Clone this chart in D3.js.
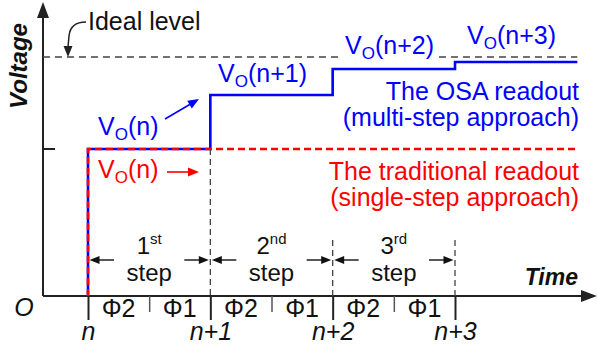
<!DOCTYPE html>
<html>
<head>
<meta charset="utf-8">
<script src="https://cdn.jsdelivr.net/npm/d3@7"></script>
<style>
  html, body { margin: 0; padding: 0; background: #fff; }
  svg { display: block; font-family: "Liberation Sans", Arial, sans-serif; }
</style>
</head>
<body>
<svg id="chart" width="597" height="351"></svg>
<script>
// Sampling instants and clock phases along the time axis
const timeTicks = ["n", "n+1", "n+2", "n+3"];
const phaseLabels = ["Φ2", "Φ1"];
const stepOrdinals = [["1", "st"], ["2", "nd"], ["3", "rd"]];

// Output voltage levels (normalised to the ideal level)
const idealLevel = 1.0;
const singleStepLevel = 0.615;
const osaLevels = [0.615, 0.841, 0.95, 0.979];
const osaArgs = ["n", "n+1", "n+2", "n+3"];

const BLUE = "#0000ff", RED = "#ff0000", INK = "#222", GREY = "#444";
const FS = 25;

const svg = d3.select("#chart");
const x = d3.scaleLinear().domain([0, 3]).range([88, 455]);
const y = d3.scaleLinear().domain([0, 1]).range([296, 57]);
const x0 = 43;            // voltage axis position
const tEnd = 4;           // end of the last interval

// arrowhead helper: filled triangle with tip at (tx,ty) pointing along angle a
function head(g, tx, ty, a, len, half, color) {
  const c = Math.cos(a), s = Math.sin(a);
  const bx = tx - c * len, by = ty - s * len;
  g.append("path")
    .attr("d", `M${tx},${ty}L${bx - s * half},${by + c * half}L${bx + s * half},${by - c * half}Z`)
    .attr("fill", color);
}
function arrow(g, x1, y1, x2, y2, color, w, len, half) {
  const a = Math.atan2(y2 - y1, x2 - x1);
  g.append("line")
    .attr("x1", x1).attr("y1", y1)
    .attr("x2", x2 - Math.cos(a) * len * 0.8).attr("y2", y2 - Math.sin(a) * len * 0.8)
    .attr("stroke", color).attr("stroke-width", w);
  head(g, x2, y2, a, len, half, color);
}
// V_O(...) label with subscript
function voLabel(g, px, py, arg, color) {
  const t = g.append("text").attr("x", px).attr("y", py)
    .attr("fill", color).attr("font-size", FS);
  t.append("tspan").text("V");
  t.append("tspan").attr("font-size", 17).attr("dy", 5).text("O");
  t.append("tspan").attr("dy", -5).text(`(${arg})`);
  return t;
}

// ---- axes ----
const axes = svg.append("g");
axes.append("line").attr("x1", x0).attr("y1", y(0)).attr("x2", x0).attr("y2", 14)
  .attr("stroke", INK).attr("stroke-width", 2);
head(axes, x0, 2, -Math.PI / 2, 16, 6, INK);
axes.append("line").attr("x1", x0).attr("y1", y(0)).attr("x2", 584).attr("y2", y(0))
  .attr("stroke", INK).attr("stroke-width", 2);
head(axes, 597, y(0), 0, 16, 6, INK);

// tick on the voltage axis at the single-step level
axes.append("line").attr("x1", x0).attr("x2", x0 + 12)
  .attr("y1", y(singleStepLevel)).attr("y2", y(singleStepLevel))
  .attr("stroke", INK).attr("stroke-width", 2);

// sampling-instant ticks with italic labels
const tAxis = d3.axisBottom(x).tickValues(d3.range(timeTicks.length))
  .tickSize(24).tickPadding(2).tickFormat(i => timeTicks[i]);
const gT = svg.append("g").attr("transform", `translate(0,${y(0)})`).call(tAxis);
gT.select(".domain").remove();
gT.selectAll(".tick line").attr("stroke", INK).attr("stroke-width", 2);
gT.selectAll(".tick text").attr("font-size", FS).attr("font-style", "italic")
  .attr("font-family", "Liberation Sans, Arial, sans-serif").attr("fill", "#111");

// phase separator ticks
const halfTicks = d3.range(stepOrdinals.length).map(i => i + 0.5);
const hAxis = d3.axisBottom(x).tickValues(halfTicks).tickSize(16).tickFormat("");
const gH = svg.append("g").attr("transform", `translate(0,${y(0)})`).call(hAxis);
gH.select(".domain").remove();
gH.selectAll(".tick line").attr("stroke", "#555").attr("stroke-width", 1.5);

// phase labels
const phases = [];
stepOrdinals.forEach((_, i) => phaseLabels.forEach((p, j) => phases.push({ t: i + 0.25 + j * 0.5, p })));
svg.append("g").selectAll("text").data(phases).join("text")
  .attr("x", d => x(d.t)).attr("y", 317).attr("text-anchor", "middle")
  .attr("font-size", FS).attr("fill", "#111").text(d => d.p);

// origin and axis titles
svg.append("text").attr("x", 24).attr("y", 316).attr("text-anchor", "middle")
  .attr("font-size", FS).attr("font-style", "italic").attr("fill", "#111").text("O");
svg.append("text").attr("x", 578).attr("y", 285).attr("text-anchor", "end")
  .attr("font-size", 23).attr("font-style", "italic").attr("font-weight", "bold")
  .attr("fill", "#111").text("Time");
svg.append("text").attr("transform", `translate(27,66) rotate(-90)`)
  .attr("text-anchor", "middle").attr("font-size", 24).attr("font-style", "italic")
  .attr("font-weight", "bold").attr("fill", "#111").text("Voltage");

// ---- guide lines ----
const guides = svg.append("g").attr("stroke", GREY).attr("stroke-width", 1.3)
  .attr("stroke-dasharray", "7,5").attr("fill", "none");
guides.append("line").attr("x1", x0).attr("x2", x(tEnd))
  .attr("y1", y(idealLevel)).attr("y2", y(idealLevel));
guides.append("line").attr("x1", x(1)).attr("x2", x(1))
  .attr("y1", y(singleStepLevel)).attr("y2", y(0)).attr("stroke-dasharray", "6,4");
[2, 3].forEach(t => guides.append("line").attr("x1", x(t)).attr("x2", x(t))
  .attr("y1", 240).attr("y2", y(0)).attr("stroke-dasharray", "6,4"));

// ---- readout waveforms ----
const line = d3.line().x(d => x(d[0])).y(d => y(d[1])).curve(d3.curveStepAfter);
const osaPts = [[0, 0]].concat(osaLevels.map((v, i) => [i, v]), [[tEnd, osaLevels[osaLevels.length - 1]]]);
svg.append("path").attr("d", line(osaPts)).attr("fill", "none")
  .attr("stroke", BLUE).attr("stroke-width", 2.6);
const ssPts = [[0, 0], [0, singleStepLevel], [tEnd, singleStepLevel]];
svg.append("path").attr("d", line(ssPts)).attr("fill", "none")
  .attr("stroke", RED).attr("stroke-width", 2.6).attr("stroke-dasharray", "7,4");

// ---- annotations ----
const ann = svg.append("g");
// ideal level
ann.append("text").attr("x", 88).attr("y", 30).attr("font-size", FS).attr("fill", "#111").text("Ideal level");
ann.append("path").attr("d", "M86,22 C76,22 70,26 69,36 L68,47")
  .attr("fill", "none").attr("stroke", INK).attr("stroke-width", 1.5);
head(ann, 68, 57, Math.PI / 2, 11, 4.5, INK);

// OSA step labels
const voPos = [[98, 135], [218, 82], [345, 54], [467, 44]];
osaArgs.forEach((a, i) => {
  const t = voLabel(ann, voPos[i][0], voPos[i][1], a, BLUE);
  if (i === 2) {
    const b = t.node().getBBox();
    ann.insert("rect", "text").attr("x", b.x - 4).attr("y", b.y).attr("width", b.width + 8)
      .attr("height", b.height).attr("fill", "#fff");
    t.raise();
  }
});
arrow(ann, 165, 119, 199, 99, BLUE, 1.6, 11, 4.5);
voLabel(ann, 98, 178, osaArgs[0], RED);
arrow(ann, 167, 172, 199, 172, RED, 1.6, 11, 4.5);

// readout descriptions (two lines each)
[[["The OSA readout", "(multi-step approach)"], 100, BLUE],
 [["The traditional readout", "(single-step approach)"], 180, RED]]
  .forEach(([lines, py, c]) => {
    const t = ann.append("text").attr("y", py).attr("text-anchor", "end")
      .attr("font-size", FS).attr("fill", c);
    lines.forEach((s, k) => t.append("tspan").attr("x", 579).attr("dy", k ? 25.5 : 0).text(s));
  });

// step spans: ordinal over "step", with arrows to the span limits
stepOrdinals.forEach(([num, sup], i) => {
  const cx = x(i + 0.5);
  const t = ann.append("text").attr("y", 254).attr("text-anchor", "middle")
    .attr("font-size", 24).attr("fill", "#111");
  t.append("tspan").attr("x", cx).text(num);
  t.append("tspan").attr("font-size", 15).attr("dy", -10).text(sup);
  ann.append("text").attr("x", cx).attr("y", 281).attr("text-anchor", "middle")
    .attr("font-size", 24).attr("fill", "#111").text("step");
  arrow(ann, x(i) + 26, 260, x(i) + 1.5, 260, "#111", 1.4, 10, 4);
  arrow(ann, x(i + 1) - 26, 260, x(i + 1) - 1.5, 260, "#111", 1.4, 10, 4);
});
</script>
</body>
</html>
